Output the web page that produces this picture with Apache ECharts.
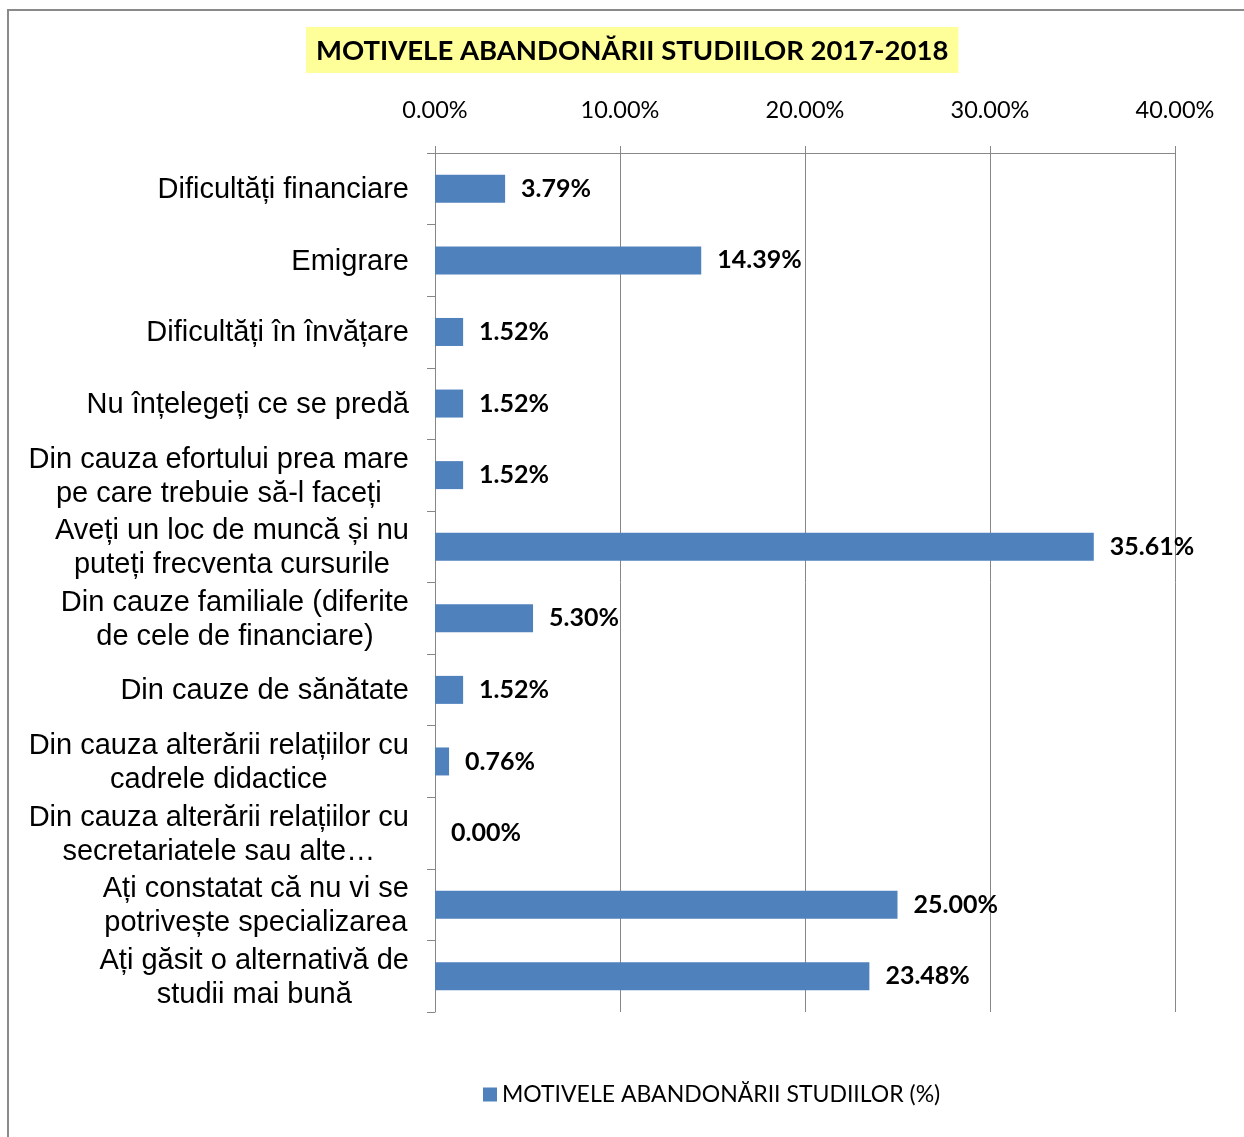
<!DOCTYPE html>
<html>
<head>
<meta charset="utf-8">
<script src="https://cdn.jsdelivr.net/npm/echarts@6/dist/echarts.min.js"></script>
<style>
  html, body { margin: 0; padding: 0; background: #fff; }
  #main { width: 1244px; height: 1137px; }
</style>
</head>
<body>
<div id="main"></div>
<script>
var categories = [
    'Dificultăți financiare',
    'Emigrare',
    'Dificultăți în învățare',
    'Nu înțelegeți ce se predă',
    'Din cauza efortului prea mare\npe care trebuie să-l faceți',
    'Aveți un loc de muncă și nu\nputeți frecventa cursurile',
    'Din cauze familiale (diferite\nde cele de financiare)',
    'Din cauze de sănătate',
    'Din cauza alterării relațiilor cu\ncadrele didactice',
    'Din cauza alterării relațiilor cu\nsecretariatele sau alte…',
    'Ați constatat că nu vi se\npotrivește specializarea',
    'Ați găsit o alternativă de\nstudii mai bună'
];
var values = [3.79, 14.39, 1.52, 1.52, 1.52, 35.61, 5.30, 1.52, 0.76, 0.00, 25.00, 23.48];
var seriesName = 'MOTIVELE ABANDONĂRII STUDIILOR (%)';
var titleText = 'MOTIVELE ABANDONĂRII STUDIILOR 2017-2018';

var lineColor = '#878787';
var chart = echarts.init(document.getElementById('main'));

var option = {
    animation: false,
    backgroundColor: '#fff',
    title: {
        text: titleText,
        left: 306,
        top: 27,
        padding: [10, 10, 8, 10],
        backgroundColor: '#FFFF99',
        textStyle: {
            fontFamily: 'Lato',
            fontWeight: 'bold',
            fontSize: 27.5,
            color: '#000'
        }
    },
    graphic: [{
        type: 'rect',
        shape: { x: 8, y: 10, width: 1300, height: 1200 },
        style: { fill: 'none', stroke: '#8a8a8a', lineWidth: 2 },
        silent: true
    }],
    legend: {
        data: [seriesName],
        left: 478,
        top: 1078,
        itemWidth: 14,
        itemHeight: 14,
        itemGap: 8,
        icon: 'rect',
        textStyle: { fontFamily: 'Lato', fontSize: 23, color: '#000' }
    },
    grid: { left: 435, right: 69, top: 153, bottom: 125 },
    xAxis: {
        type: 'value',
        position: 'top',
        min: 0,
        max: 40,
        interval: 10,
        axisLine: { show: true, lineStyle: { color: lineColor } },
        axisTick: { show: true, length: 7, lineStyle: { color: lineColor } },
        splitLine: { show: true, lineStyle: { color: lineColor, width: 1 } },
        axisLabel: {
            margin: 31,
            fontFamily: 'Lato',
            fontSize: 23.5,
            color: '#000',
            formatter: function (v) { return v.toFixed(2) + '%'; }
        }
    },
    yAxis: {
        type: 'category',
        data: categories,
        inverse: true,
        axisLine: { show: true, lineStyle: { color: lineColor } },
        axisTick: { show: true, length: 8, lineStyle: { color: lineColor } },
        axisLabel: {
            margin: 26,
            interval: 0,
            formatter: function (v) {
                return v.split('\n').map(function (s) { return '{c|' + s + '}'; }).join('\n');
            },
            rich: {
                c: {
                    fontFamily: 'Liberation Sans',
                    fontSize: 29,
                    lineHeight: 34,
                    color: '#000',
                    align: 'center',
                    padding: [3, 0, 0, 0]
                }
            }
        }
    },
    series: [{
        name: seriesName,
        type: 'bar',
        data: values,
        barWidth: 28,
        itemStyle: { color: '#4F81BD' },
        label: {
            show: true,
            position: 'right',
            distance: 16,
            fontFamily: 'Lato',
            fontWeight: 'bold',
            fontSize: 25,
            color: '#000',
            formatter: function (p) { return p.value.toFixed(2) + '%'; }
        }
    }]
};
chart.setOption(option);
</script>
</body>
</html>
